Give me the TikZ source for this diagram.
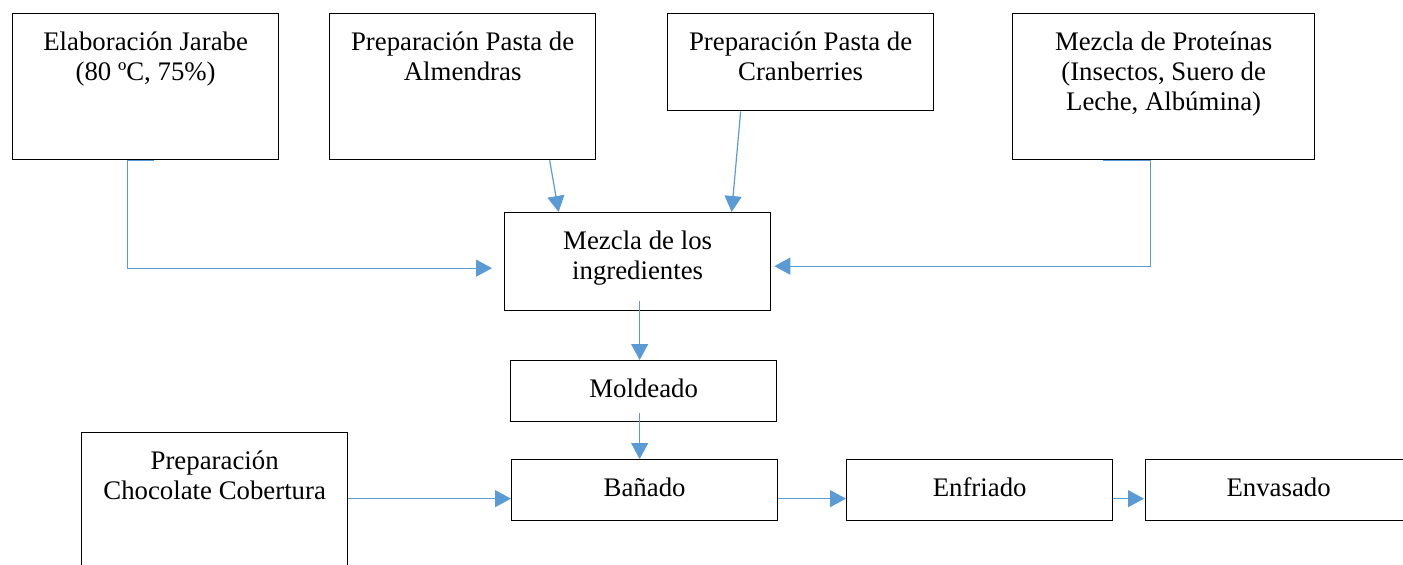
\documentclass[tikz,border=0pt]{standalone}
\usepackage{fontspec}
\setmainfont{Liberation Serif}
\usetikzlibrary{positioning,arrows.meta}
\definecolor{flowcolor}{RGB}{91,155,213}
\newcommand{\boxtext}[3]{\parbox[c][#2][t]{#1}{\centering\rule{0pt}{18.5pt}#3}}

\begin{document}
\begin{tikzpicture}[x=0.5pt, y=-0.5pt,
  box/.style={draw=black, line width=0.65pt, inner sep=0pt, anchor=north west,
    font=\fontsize{13.4}{15}\selectfont},
  flow/.style={draw=flowcolor, line width=0.6pt, -{Triangle[length=8pt,width=8.5pt]}}]
  \useasboundingbox (0,0) rectangle (1403,564);
  % ingredients
  \node[box] (jarabe) at (12,13) {\boxtext{133pt}{73pt}{Elaboración Jarabe\\(80 ºC, 75\%)}};
  \node[box] (almendras) at (329,13) {\boxtext{133pt}{73pt}{Preparación Pasta de\\Almendras}};
  \node[box] (cranberries) at (667,13) {\boxtext{133pt}{48.5pt}{Preparación Pasta de\\Cranberries}};
  \node[box] (proteinas) at (1012,13) {\boxtext{151pt}{73pt}{Mezcla de Proteínas\\(Insectos, Suero de\\Leche, Albúmina)}};
  
  % process steps
  \node[box] (mezcla) at (504,212) {\boxtext{133pt}{49pt}{Mezcla de los\\ingredientes}};
  \node[box] (moldeado) at (510,360) {\boxtext{133pt}{30.5pt}{Moldeado}};
  \node[box] (banado) at (511,459) {\boxtext{133pt}{30.5pt}{Bañado}};
  \node[box] (enfriado) at (846,459) {\boxtext{133pt}{30.5pt}{Enfriado}};
  \node[box] (envasado) at (1145,459) {\boxtext{133pt}{30.5pt}{Envasado}};
  \node[box] (chocolate) at (81,432) {\boxtext{133pt}{73pt}{Preparación\\Chocolate Cobertura}};
  
  \draw[flow] ([xshift=4pt]jarabe.south) -- ([xshift=-9pt]jarabe.south)
    |- ([xshift=-6pt,yshift=-3.25pt]mezcla.west);
  \draw[flow] ([xshift=43.5pt]almendras.south) -- ([xshift=-39.5pt]mezcla.north);
  \draw[flow] ([xshift=-30pt]cranberries.south) -- ([xshift=47pt]mezcla.north);
  \draw[flow] ([xshift=-30.5pt]proteinas.south) -- ([xshift=-6.5pt]proteinas.south)
    |- ([xshift=1.5pt,yshift=-2.25pt]mezcla.east);
  
  \draw[flow] ([xshift=1pt,yshift=5pt]mezcla.south) -- ([xshift=1pt]mezcla.south |- moldeado.north);
  \draw[flow] ([xshift=-2pt,yshift=4.5pt]moldeado.south) -- ([xshift=-2pt]moldeado.south |- banado.north);
  \draw[flow] ([yshift=3.5pt]chocolate.east) -- ([yshift=-4.25pt]banado.west);
  \draw[flow] ([yshift=-4.25pt]banado.east) -- ([yshift=-4.25pt]enfriado.west);
  \draw[flow] ([yshift=-4.25pt]enfriado.east) -- ([xshift=-0.5pt,yshift=-4.25pt]envasado.west);
\end{tikzpicture}
\end{document}
